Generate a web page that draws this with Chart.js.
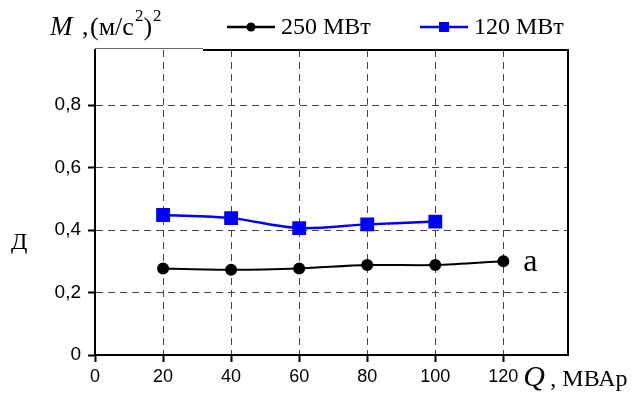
<!DOCTYPE html>
<html lang="ru">
<head>
    <meta charset="UTF-8">
    <title>M от Q</title>
    <script src="https://cdn.jsdelivr.net/npm/chart.js"></script>
    <style>
        html, body {
            margin: 0;
            padding: 0;
            background: #fff;
        }
        #wrap {
            position: relative;
            width: 635px;
            height: 401px;
        }
    </style>
</head>
<body>
    <div id="wrap">
        <canvas id="chart" width="635" height="401"></canvas>
    </div>

    <script>
        // данные
        const qValues = [20, 40, 60, 80, 100, 120];
        const m250 = [0.277, 0.273, 0.277, 0.288, 0.288, 0.30];
        const m120 = [0.448, 0.438, 0.406, 0.418, 0.427];
        const yTicks = [0, 0.2, 0.4, 0.6, 0.8];
        const xTicks = [0, 20, 40, 60, 80, 100, 120];
        const seriesNames = ['250 МВт', '120 МВт'];

        const serif = '"Liberation Serif", "Times New Roman", serif';
        const sans = '"Liberation Sans", Arial, sans-serif';

        // подписи, рамка и легенда рисуются поверх
        const decor = {
            id: 'decor',
            afterDraw(chart) {
                const ctx = chart.ctx;
                const a = chart.chartArea;
                ctx.save();

                // рамка сверху и справа
                ctx.strokeStyle = '#000';
                ctx.lineWidth = 2;
                ctx.beginPath();
                ctx.moveTo(203, a.top);
                ctx.lineTo(a.right, a.top);
                ctx.lineTo(a.right, a.bottom);
                ctx.stroke();
                ctx.strokeStyle = '#666';
                ctx.lineWidth = 1;
                ctx.beginPath();
                ctx.moveTo(a.left, a.top - 1.5);
                ctx.lineTo(203, a.top - 1.5);
                ctx.stroke();

                ctx.fillStyle = '#000';
                ctx.textBaseline = 'alphabetic';

                // заголовок оси Y
                ctx.font = 'italic 27px ' + serif;
                ctx.fillText('M', 50, 35);
                ctx.font = '26px ' + serif;
                ctx.fillText(',', 82, 35);
                let x = 90;
                ctx.fillText('(м/с', x, 35);
                x += ctx.measureText('(м/с').width;
                ctx.font = '17px ' + serif;
                ctx.fillText('2', x + 1, 21);
                x += ctx.measureText('2').width + 1;
                ctx.font = '26px ' + serif;
                ctx.fillText(')', x, 35);
                x += ctx.measureText(')').width;
                ctx.font = '17px ' + serif;
                ctx.fillText('2', x + 1, 21);

                // буква Д слева
                ctx.font = '24px ' + serif;
                ctx.fillText('Д', 11, 249);

                // подпись оси X
                const xs = chart.scales.x;
                const qx = xs.getPixelForValue(120) + 20;
                ctx.font = 'italic 30px ' + serif;
                ctx.fillText('Q', qx, 386);
                ctx.font = '24px ' + serif;
                ctx.fillText(' , МВАр', qx + 21, 386);

                // буква "a" у последней точки
                const meta = chart.getDatasetMeta(0);
                const last = meta.data[meta.data.length - 1];
                ctx.font = '32px ' + serif;
                ctx.fillText('a', last.x + 20, last.y + 10);

                // легенда
                const legendX = [227, 420];
                chart.data.datasets.forEach((ds, i) => {
                    const lx = legendX[i];
                    const ly = 27;
                    ctx.strokeStyle = ds.borderColor;
                    ctx.lineWidth = 2.5;
                    ctx.beginPath();
                    ctx.moveTo(lx, ly);
                    ctx.lineTo(lx + 48, ly);
                    ctx.stroke();
                    ctx.fillStyle = ds.backgroundColor;
                    if (ds.pointStyle === 'rect') {
                        ctx.fillRect(lx + 19, ly - 5, 10, 10);
                    } else {
                        ctx.beginPath();
                        ctx.arc(lx + 24, ly, 4.5, 0, Math.PI * 2);
                        ctx.fill();
                    }
                    ctx.fillStyle = '#000';
                    ctx.font = '24px ' + serif;
                    ctx.fillText(ds.label, lx + 54, 34);
                });

                ctx.restore();
            }
        };

        const ctx = document.getElementById('chart').getContext('2d');
        new Chart(ctx, {
            type: 'line',
            data: {
                datasets: [
                    {
                        label: seriesNames[0],
                        data: qValues.map((q, i) => ({x: q, y: m250[i]})),
                        borderColor: '#000',
                        backgroundColor: '#000',
                        borderWidth: 2,
                        pointStyle: 'circle',
                        pointRadius: 5,
                        pointHoverRadius: 5,
                        tension: 0.3
                    },
                    {
                        label: seriesNames[1],
                        data: m120.map((m, i) => ({x: qValues[i], y: m})),
                        borderColor: '#0000ff',
                        backgroundColor: '#0000ff',
                        borderWidth: 2.5,
                        pointStyle: 'rect',
                        pointRadius: 8,
                        pointHoverRadius: 8,
                        tension: 0.3
                    }
                ]
            },
            options: {
                responsive: false,
                animation: false,
                layout: {
                    padding: {left: 0, top: 50, right: 67, bottom: 0}
                },
                plugins: {
                    legend: {display: false},
                    tooltip: {enabled: false}
                },
                scales: {
                    x: {
                        type: 'linear',
                        min: 0,
                        max: 139,
                        afterFit: s => { s.height = 46; },
                        afterBuildTicks: s => { s.ticks = xTicks.map(v => ({value: v})); },
                        border: {color: '#000', width: 2, dash: [7, 5]},
                        grid: {
                            color: '#444',
                            lineWidth: 1,
                            tickColor: '#000',
                            tickLength: 7,
                            tickWidth: 2,
                            tickBorderDash: []
                        },
                        ticks: {
                            color: '#000',
                            padding: 4,
                            maxRotation: 0,
                            font: {family: sans, size: 18}
                        }
                    },
                    y: {
                        min: 0,
                        max: 0.976,
                        afterFit: s => { s.width = 95; },
                        afterBuildTicks: s => { s.ticks = yTicks.map(v => ({value: v})); },
                        border: {color: '#000', width: 2, dash: [7, 5]},
                        grid: {
                            color: '#444',
                            lineWidth: 1,
                            tickColor: '#000',
                            tickLength: 7,
                            tickWidth: 2,
                            tickBorderDash: []
                        },
                        ticks: {
                            color: '#000',
                            padding: 7,
                            font: {family: sans, size: 19},
                            callback: v => v === 0 ? '0' : v.toFixed(1).replace('.', ',')
                        }
                    }
                }
            },
            plugins: [decor]
        });
    </script>
</body>
</html>
